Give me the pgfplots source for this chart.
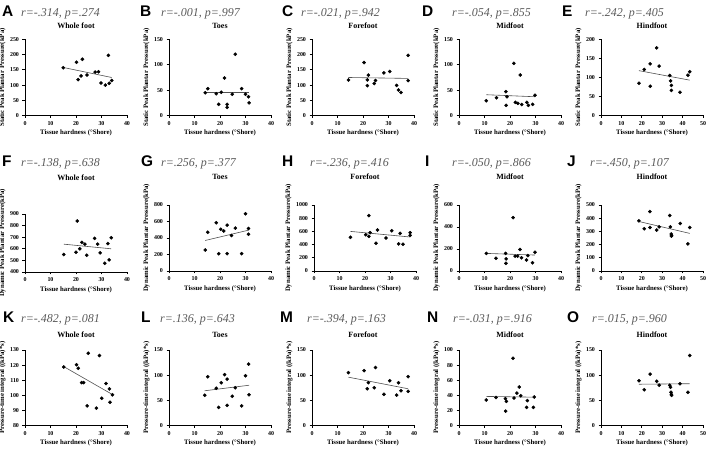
\documentclass[border=0pt]{standalone}
\usepackage{pgfplots}
\pgfplotsset{compat=1.18}
\usepackage{fontspec}
\setmainfont{Liberation Serif}
\newfontfamily\arial{Liberation Sans}
\definecolor{rtext}{HTML}{5A5A5A}
\definecolor{fitline}{HTML}{505050}

\pgfplotsset{
  panel/.style={
    scale only axis, width=102bp, anchor=south west,
    axis x line*=bottom, axis y line*=left,
    axis line style={line width=0.9bp,-},
    tick align=outside, major tick length=2.5bp,
    tick style={line width=0.9bp,black},
    xmin=0, xmax=40, xtick={0,10,20,30,40},
    /pgf/number format/assume math mode=true,
    /pgf/number format/1000 sep={},
    tick label style={font=\fontsize{6}{7}\selectfont\bfseries},
    label style={font=\fontsize{6.8}{8}\selectfont\bfseries},
    xlabel={Tissue hardness (°Shore)},
    xlabel style={inner sep=1pt},
    ylabel style={inner sep=1pt},
    clip=false,
  },
  ttl/.style={every axis title/.style={at={(0.5,1)}, anchor=base, yshift=#1,
      font=\fontsize{8}{9}\selectfont\bfseries}},
  wide/.style={xmax=50, xtick={0,10,20,30,40,50}},
  rowA/.style={height=76bp, ylabel={Static Peak Plantar Pressure(kPa)}, ttl=11.3bp},
  rowB/.style={height=66bp, ylabel={Dynamic Peak Plantar Pressure(kPa)}, ttl=25.3bp},
  rowC/.style={height=75.5bp, ylabel={Pressure-time integral ((kPa)*s)}, ttl=12.3bp},
  pts/.style={only marks, mark=*, mark size=1.6bp, black},
  fit/.style={line width=0.6bp, fitline},
}

\begin{document}
\begin{tikzpicture}
\useasboundingbox (0,0) rectangle (708bp,450bp);

% ---------- panel letters and statistics ----------
\tikzset{
  plet/.style={anchor=base west, inner sep=0pt, font=\arial\bfseries\fontsize{15.5}{16}\selectfont},
  rstat/.style={anchor=base west, inner sep=0pt, font=\fontsize{12}{13}\selectfont\itshape, text=rtext},
}
\node[plet] at (2bp,433.3bp) {A};   \node[rstat] at (21bp,433.3bp) {r=-.314, p=.274};
\node[plet] at (140bp,433.3bp) {B}; \node[rstat] at (161bp,433.3bp) {r=-.001, p=.997};
\node[plet] at (282bp,433.3bp) {C}; \node[rstat] at (301bp,433.3bp) {r=-.021, p=.942};
\node[plet] at (422bp,433.3bp) {D}; \node[rstat] at (452bp,433.3bp) {r=-.054, p=.855};
\node[plet] at (562bp,433.3bp) {E}; \node[rstat] at (585bp,433.3bp) {r=-.242, p=.405};

\node[plet] at (2bp,283bp) {F};   \node[rstat] at (21bp,283bp) {r=-.138, p=.638};
\node[plet] at (141bp,283bp) {G}; \node[rstat] at (161bp,283bp) {r=.256, p=.377};
\node[plet] at (282bp,283bp) {H}; \node[rstat] at (310bp,283bp) {r=-.236, p=.416};
\node[plet] at (425bp,283bp) {I}; \node[rstat] at (452bp,283bp) {r=-.050, p=.866};
\node[plet] at (567bp,283bp) {J}; \node[rstat] at (590bp,283bp) {r=-.450, p=.107};

\node[plet] at (3bp,127bp) {K};   \node[rstat] at (21bp,127bp) {r=-.482, p=.081};
\node[plet] at (141bp,127bp) {L}; \node[rstat] at (160bp,127bp) {r=.136, p=.643};
\node[plet] at (280bp,127bp) {M}; \node[rstat] at (307bp,127bp) {r=-.394, p=.163};
\node[plet] at (427bp,127bp) {N}; \node[rstat] at (453bp,127bp) {r=-.031, p=.916};
\node[plet] at (567bp,127bp) {O}; \node[rstat] at (592bp,127bp) {r=.015, p=.960};

% ================= row 1: static peak =================
\begin{axis}[panel, rowA, at={(25bp,334.5bp)}, title={Whole foot},
  ymin=0, ymax=250, ytick={0,50,100,150,200,250}]
\addplot[pts] coordinates {(15,157)(20.2,175)(22.5,185)(20.8,118)(22,130)(24.3,133)(27.5,143)(28.8,144)(32.7,198)(29.8,107)(31.5,100)(33,106)(34,115)};
\addplot[fit] coordinates {(15,158)(34,125)};
\end{axis}

\begin{axis}[panel, rowA, at={(169bp,334.5bp)}, title={Toes},
  ymin=0, ymax=150, ytick={0,50,100,150}]
\addplot[pts] coordinates {(14.2,45)(15.2,53)(18.5,43)(19.5,22)(20.5,46)(21.8,74)(22.8,22)(22.8,16)(24.8,42)(26,121)(28.5,53)(30,42)(31.2,37)(31.4,25)};
\addplot[fit] coordinates {(14.2,46)(31.4,46)};
\end{axis}

\begin{axis}[panel, rowA, at={(312bp,334.5bp)}, title={Forefoot},
  ymin=0, ymax=250, ytick={0,50,100,150,200,250}]
\addplot[pts] coordinates {(14.3,117)(20.4,174)(22.1,133)(21.7,117)(21.7,98)(24.4,105)(24.9,115)(28.2,140)(30.5,145)(33.2,99)(33.9,84)(34.9,76)(37.7,198)(37.7,115)};
\addplot[fit] coordinates {(14.3,125)(37.7,122)};
\end{axis}

\begin{axis}[panel, rowA, at={(459bp,334.5bp)}, title={Midfoot},
  ymin=0, ymax=150, ytick={0,50,100,150}]
\addplot[pts] coordinates {(10.7,29)(14.7,35)(18.4,47)(18.8,37)(18.5,20)(21.5,103)(22.1,26)(23.1,24)(24,80)(24.6,21.5)(26.6,26)(27.2,20)(28.9,22)(29.8,40)};
\addplot[fit] coordinates {(10.7,41)(29.8,37)};
\end{axis}

\begin{axis}[panel, wide, rowA, at={(601bp,334.5bp)}, title={Hindfoot},
  ymin=0, ymax=200, ytick={0,50,100,150,200}]
\addplot[pts] coordinates {(18.6,85)(21.2,121)(24.1,136)(24.1,77)(27.3,178)(28.5,130)(33.7,105)(34.1,91)(34.5,79)(34.5,66)(38.7,61)(42.6,106)(43.5,115)};
\addplot[fit] coordinates {(18.6,118)(43.5,93)};
\end{axis}

% ================= row 2: dynamic peak =================
\begin{axis}[panel, rowB, height=58bp, ttl=33.3bp, at={(25bp,178bp)}, title={Whole foot},
  ymin=400, ymax=900, ytick={400,500,600,700,800,900}]
\addplot[pts] coordinates {(15.2,550)(20,570)(20.5,840)(21.5,600)(22.3,655)(23.5,640)(24.2,545)(27.3,690)(28.5,640)(29.5,565)(31.3,475)(32.5,645)(33,505)(33.8,695)};
\addplot[fit] coordinates {(15.2,640)(33.8,600)};
\end{axis}

\begin{axis}[panel, rowB, at={(169bp,179bp)}, title={Toes},
  ymin=0, ymax=800, ytick={0,200,400,600,800}]
\addplot[pts] coordinates {(14.2,255)(15.2,470)(18.5,585)(19.5,210)(20.3,505)(21.5,485)(22.8,555)(22.8,210)(24.5,430)(26,520)(28.5,210)(30,695)(31.2,515)(31.2,445)};
\addplot[fit] coordinates {(14.2,370)(31.2,495)};
\end{axis}

\begin{axis}[panel, rowB, at={(314bp,179bp)}, title={Forefoot},
  ymin=0, ymax=1000, ytick={0,200,400,600,800,1000}]
\addplot[pts] coordinates {(14.3,510)(20.3,550)(21.5,840)(21.5,525)(22,580)(24.3,420)(24.9,620)(28.2,500)(30.5,610)(33.2,410)(33.8,570)(34.9,405)(37.7,580)(37.7,540)};
\addplot[fit] coordinates {(14.3,600)(37.7,515)};
\end{axis}

\begin{axis}[panel, rowB, at={(459bp,179bp)}, title={Midfoot},
  ymin=0, ymax=600, ytick={0,200,400,600}]
\addplot[pts] coordinates {(10.7,160)(14.5,115)(18.3,160)(18.5,110)(18.4,70)(21.2,485)(22,135)(23,135)(23.9,195)(24.5,120)(26.5,100)(27,140)(28.8,75)(29.8,170)};
\addplot[fit] coordinates {(10.7,160)(29.8,145)};
\end{axis}

\begin{axis}[panel, wide, rowB, at={(601bp,179bp)}, title={Hindfoot},
  ymin=0, ymax=500, ytick={0,100,200,300,400,500}]
\addplot[pts] coordinates {(18.6,380)(21.2,320)(24,450)(24,330)(27.3,310)(28.5,335)(33.7,420)(34,335)(34.4,280)(34.5,265)(34.6,270)(38.8,360)(42.6,205)(43.5,330)};
\addplot[fit] coordinates {(18.6,375)(43.5,285)};
\end{axis}

% ================= row 3: pressure-time integral =================
\begin{axis}[panel, rowC, at={(25bp,24.5bp)}, title={Whole foot},
  ymin=80, ymax=130, ytick={80,90,100,110,120,130}]
\addplot[pts] coordinates {(15.2,118.8)(20.2,120.3)(20.9,117.9)(22.2,108.4)(23,108.4)(24.8,127.8)(24.4,93)(28,91.5)(29.2,126.3)(30.1,98)(31.8,107.8)(33.1,104.2)(33.3,95.4)(34.3,100.3)};
\addplot[fit] coordinates {(15.2,119)(34.3,100.5)};
\end{axis}

\begin{axis}[panel, rowC, at={(169bp,24.5bp)}, title={Toes},
  ymin=0, ymax=150, ytick={0,50,100,150}]
\addplot[pts] coordinates {(14,60)(15.2,97)(18.5,74)(19.5,36)(20.5,85)(21.8,101)(22.8,92)(22.8,40)(24.8,58)(26,75)(28.5,39)(30,99)(31.2,122)(31.4,61)};
\addplot[fit] coordinates {(14,69)(31.4,80)};
\end{axis}

\begin{axis}[panel, rowC, at={(312bp,24.5bp)}, title={Forefoot},
  ymin=0, ymax=150, ytick={0,50,100,150}]
\addplot[pts] coordinates {(14.3,105)(20.4,109)(22.1,85)(21.7,73)(24.4,75)(24.9,115)(28.2,62)(30.5,89)(33.2,60.5)(33.9,85)(34.9,69)(37.7,97)(37.7,68)};
\addplot[fit] coordinates {(14.3,96)(37.7,73)};
\end{axis}

\begin{axis}[panel, rowC, at={(459bp,24.5bp)}, title={Midfoot},
  ymin=0, ymax=100, ytick={0,20,40,60,80,100}]
\addplot[pts] coordinates {(10.7,33.8)(14.5,37)(18.2,35.5)(18.6,32)(18.3,19)(21.2,89)(21.6,36.4)(22.7,43)(23.6,51)(24.2,39.5)(26.5,24)(26.8,33)(29.2,24)(29.5,37.7)};
\addplot[fit] coordinates {(10.7,38.5)(29.8,37.5)};
\end{axis}

\begin{axis}[panel, wide, rowC, at={(601bp,24.5bp)}, title={Hindfoot},
  ymin=0, ymax=150, ytick={0,50,100,150}]
\addplot[pts] coordinates {(18.6,89)(21.2,71)(24.1,102)(27.3,88)(28.5,80)(33.7,80)(34.1,76)(34.3,66)(34.5,62)(34.6,60)(38.7,83)(42.6,66)(43.5,139)};
\addplot[fit] coordinates {(18.6,82)(43.5,83)};
\end{axis}

\end{tikzpicture}
\end{document}
